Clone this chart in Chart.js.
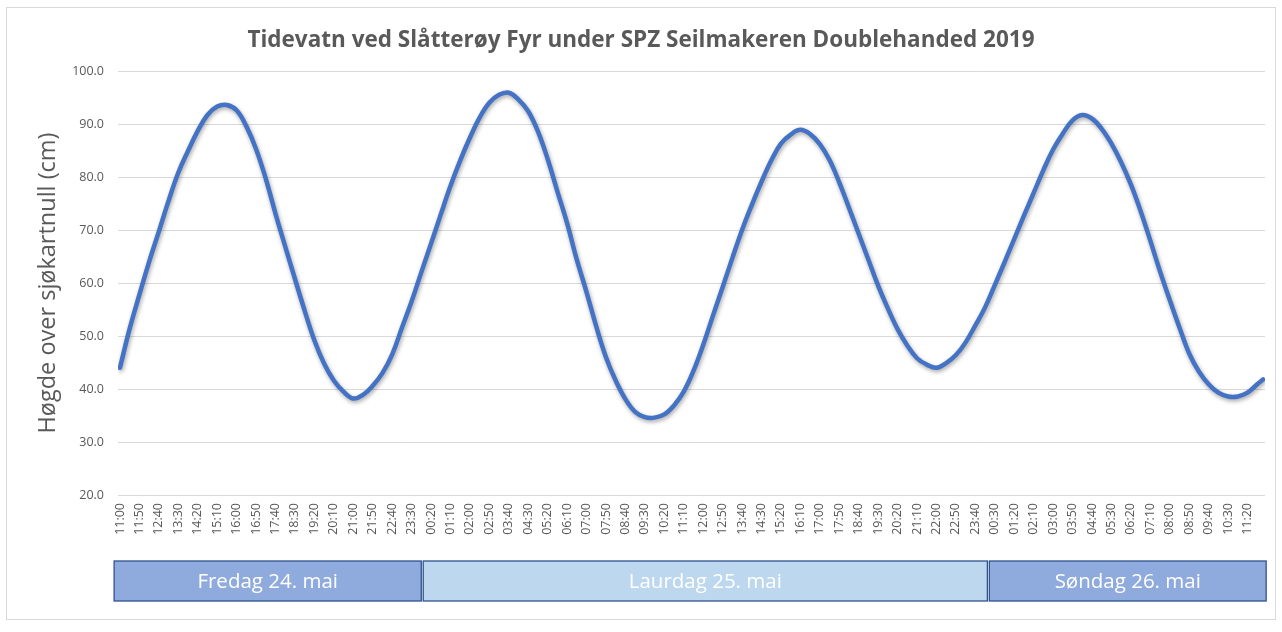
<!DOCTYPE html>
<html>
<head>
<meta charset="utf-8">
<script src="https://cdn.jsdelivr.net/npm/chart.js@4/dist/chart.umd.min.js"></script>
<style>
  html, body { margin: 0; padding: 0; background: #ffffff; }
  #wrap { width: 1282px; height: 632px; }
</style>
</head>
<body>
<div id="wrap"><canvas id="c" width="1282" height="632"></canvas></div>
<script>
// ---- Data (minutes after Friday 24 May 11:00) ----
const sampleMinutes = [
  0, 25, 50, 75, 100, 125, 150, 175, 200, 225, 250, 275, 300, 325, 350, 375, 400, 425, 450, 475,
  500, 525, 550, 575, 600, 625, 650, 675, 700, 725, 750, 775, 800, 825, 850, 875, 900, 925, 950, 975,
  1000, 1025, 1050, 1075, 1100, 1125, 1150, 1175, 1200, 1225, 1250, 1275, 1300, 1325, 1350, 1375, 1400, 1425, 1450, 1475,
  1500, 1525, 1550, 1575, 1600, 1625, 1650, 1675, 1700, 1725, 1750, 1775, 1800, 1825, 1850, 1875, 1900, 1925, 1950, 1975,
  2000, 2025, 2050, 2075, 2100, 2125, 2150, 2175, 2200, 2225, 2250, 2275, 2300, 2325, 2350, 2375, 2400, 2425, 2450, 2475,
  2500, 2525, 2550, 2575, 2600, 2625, 2650, 2675, 2700, 2725, 2750, 2775, 2800, 2825, 2850, 2875, 2900, 2925, 2940
];
const tideHeights = [
  44.0, 51.4, 57.8, 64.0, 69.7, 75.5, 80.8, 84.9, 88.7, 91.7, 93.3, 93.6, 92.6, 89.6, 85.3, 79.7, 73.1, 66.9, 60.8, 54.8,
  49.2, 44.8, 41.6, 39.5, 38.2, 38.9, 40.6, 43.0, 46.5, 51.5, 56.5, 62.0, 67.4, 72.9, 78.3, 83.1, 87.4, 91.2, 94.0, 95.5,
  95.9, 94.6, 92.4, 88.6, 83.4, 77.3, 71.3, 64.4, 58.3, 51.8, 46.0, 41.6, 38.1, 35.7, 34.7, 34.6, 35.2, 36.9, 39.5, 43.4,
  48.3, 53.8, 59.2, 64.7, 70.0, 74.7, 79.1, 83.1, 86.3, 88.0, 88.9, 88.1, 86.2, 83.2, 79.0, 74.2, 69.3, 64.4, 59.5, 55.2,
  51.3, 48.2, 45.8, 44.6, 44.0, 44.9, 46.4, 48.8, 52.0, 55.4, 59.6, 63.9, 68.3, 72.7, 77.0, 81.3, 85.2, 88.2, 90.7, 91.7,
  91.0, 89.1, 86.3, 82.8, 78.6, 73.6, 68.0, 62.2, 56.8, 51.6, 46.7, 43.3, 40.9, 39.3, 38.6, 38.6, 39.3, 40.9, 41.8
];
const tickLabels = [
  '11:00','11:50','12:40','13:30','14:20','15:10','16:00','16:50','17:40','18:30','19:20','20:10','21:00','21:50','22:40','23:30',
  '00:20','01:10','02:00','02:50','03:40','04:30','05:20','06:10','07:00','07:50','08:40','09:30','10:20','11:10','12:00','12:50',
  '13:40','14:30','15:20','16:10','17:00','17:50','18:40','19:30','20:20','21:10','22:00','22:50','23:40',
  '00:30','01:20','02:10','03:00','03:50','04:40','05:30','06:20','07:10','08:00','08:50','09:40','10:30','11:20'
];
const tickStepMinutes = 50;
const dayLabels = ['Fredag 24. mai', 'Laurdag 25. mai', 'Søndag 26. mai'];
const dayStartMinutes = [-15, 780, 2236];
const dayEndMinutes = [775, 2231, 2948];
const dayFills = ['#8faadc', '#bdd7ee', '#8faadc'];

const chartTitle = 'Tidevatn ved Slåtterøy Fyr under SPZ Seilmakeren Doublehanded 2019';
const yAxisTitle = 'Høgde over sjøkartnull (cm)';

const points = sampleMinutes.map((m, i) => ({ x: m, y: tideHeights[i] }));

const FONT = "'Open Sans', 'Liberation Sans', sans-serif";
const GREY = '#595959';

const bgPlugin = {
  id: 'bg',
  beforeDraw(chart) {
    const ctx = chart.ctx;
    ctx.save();
    ctx.fillStyle = '#ffffff';
    ctx.fillRect(0, 0, chart.width, chart.height);
    ctx.strokeStyle = '#d9d9d9';
    ctx.lineWidth = 1;
    ctx.strokeRect(6.5, 7.5, chart.width - 13, chart.height - 20);
    ctx.restore();
  }
};

const shadowPlugin = {
  id: 'lineShadow',
  beforeDatasetDraw(chart) {
    const ctx = chart.ctx;
    ctx.save();
    ctx.shadowColor = 'rgba(0,0,0,0.35)';
    ctx.shadowBlur = 4;
    ctx.shadowOffsetX = 1;
    ctx.shadowOffsetY = 2;
  },
  afterDatasetDraw(chart) {
    chart.ctx.restore();
  }
};

const dayBandPlugin = {
  id: 'dayBands',
  afterDraw(chart) {
    const ctx = chart.ctx;
    const xs = chart.scales.x;
    const top = chart.chartArea.bottom + 66;
    const h = 40;
    ctx.save();
    dayLabels.forEach((lbl, i) => {
      const x0 = xs.getPixelForValue(dayStartMinutes[i]);
      const x1 = xs.getPixelForValue(dayEndMinutes[i]);
      ctx.fillStyle = dayFills[i];
      ctx.fillRect(x0, top, x1 - x0, h);
      ctx.strokeStyle = '#2f528f';
      ctx.lineWidth = 1.3;
      ctx.strokeRect(x0, top, x1 - x0, h);
      ctx.fillStyle = '#ffffff';
      ctx.font = "20.5px " + FONT;
      ctx.textAlign = 'center';
      ctx.textBaseline = 'middle';
      ctx.fillText(lbl, (x0 + x1) / 2, top + h / 2 + 1);
    });
    ctx.restore();
  }
};

new Chart(document.getElementById('c'), {
  type: 'line',
  data: {
    datasets: [{
      label: 'Tidevatn',
      data: points,
      borderColor: '#4472c4',
      borderWidth: 4.5,
      borderCapStyle: 'round',
      borderJoinStyle: 'round',
      pointRadius: 0,
      fill: false,
      tension: 0.4
    }]
  },
  options: {
    responsive: false,
    animation: false,
    layout: { padding: { top: 15, left: 17, right: 17, bottom: 77 } },
    plugins: {
      legend: { display: false },
      tooltip: { enabled: false },
      title: {
        display: true,
        text: chartTitle,
        color: GREY,
        font: { family: FONT, size: 22.5, weight: 'bold', lineHeight: 1.2 },
        padding: { top: 12, bottom: 17 }
      }
    },
    scales: {
      x: {
        type: 'linear',
        min: -5,
        max: 2945,
        grid: { display: false, drawTicks: false },
        border: { display: false },
        afterBuildTicks(scale) {
          scale.ticks = tickLabels.map((_, i) => ({ value: i * tickStepMinutes }));
        },
        afterFit(scale) { scale.height = 60; },
        ticks: {
          autoSkip: false,
          maxRotation: 90,
          minRotation: 90,
          padding: 8,
          color: GREY,
          font: { family: FONT, size: 12.5 },
          callback(value, index) { return tickLabels[index]; }
        }
      },
      y: {
        min: 20,
        max: 100,
        grid: { color: '#d9d9d9', lineWidth: 1, drawTicks: false },
        border: { display: false },
        afterFit(scale) { scale.width = 101; },
        ticks: {
          stepSize: 10,
          padding: 14,
          color: GREY,
          font: { family: FONT, size: 12.5 },
          callback(v) { return Number(v).toFixed(1); }
        },
        title: {
          display: true,
          text: yAxisTitle,
          color: GREY,
          font: { family: FONT, size: 23.5 },
          padding: { top: 17, bottom: 0 }
        }
      }
    }
  },
  plugins: [bgPlugin, shadowPlugin, dayBandPlugin]
});
</script>
</body>
</html>
